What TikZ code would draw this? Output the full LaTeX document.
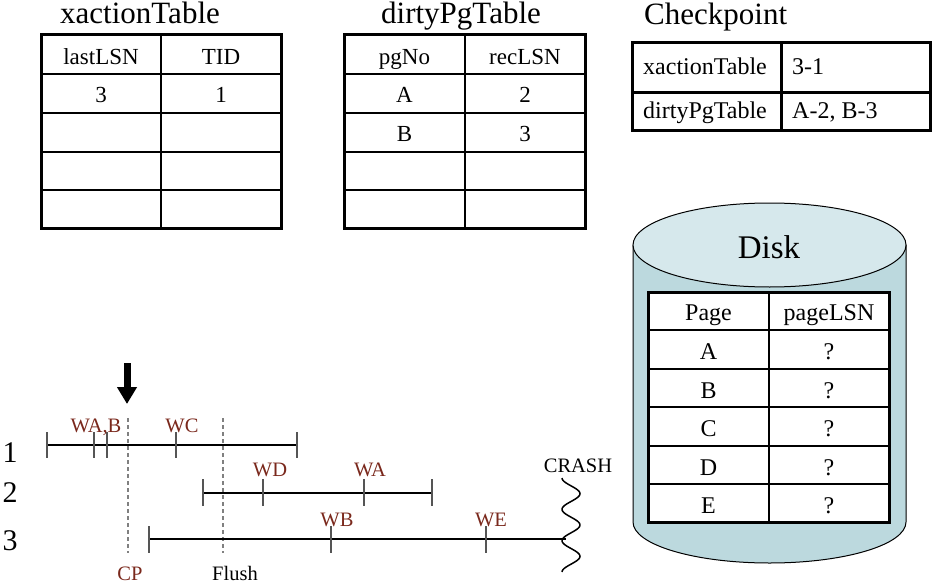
\documentclass[tikz,border=0pt]{standalone}
\usepackage{fontspec}
\setmainfont{Liberation Serif}
\usetikzlibrary{arrows.meta,positioning,calc}
\definecolor{wred}{RGB}{122,40,28}
\definecolor{tickgray}{RGB}{85,85,85}
\definecolor{disktop}{RGB}{214,232,236}
\definecolor{diskside}{RGB}{188,217,222}

\begin{document}
\begin{tikzpicture}[x=1pt,y=-1pt,
    outer/.style={line width=3pt},
    inner/.style={line width=1.2pt},
    title/.style={font=\fontsize{31}{31}\selectfont, anchor=base, inner sep=0pt},
    cell/.style={font=\fontsize{23}{23}\selectfont, anchor=base, inner sep=0pt},
    dcell/.style={font=\fontsize{24}{24}\selectfont, anchor=base, inner sep=0pt},
    wlabel/.style={text=wred, font=\fontsize{20.5}{20.5}\selectfont, anchor=base, inner sep=0pt},
    tick/.style={draw=tickgray, line width=1.6pt},
    logline/.style={line width=1.2pt},
    cutline/.style={draw=gray, dash pattern=on 4pt off 3pt, line width=1.2pt}]
    \useasboundingbox (0,0) rectangle (942,583);

    % xactionTable
    \node[title] (xtTitle) at (140,24) {xactionTable};
    \foreach \y in {74,113,152,190} \draw[inner] (41,\y) -- (281,\y);
    \draw[inner] (161,35) -- (161,228);
    \draw[outer] (41,35) rectangle (281,228);
    \node[cell] (xtH1) at (101,65) {lastLSN};
    \node[cell] (xtH2) at (221,65) {TID};
    \node[cell] (xtR1a) at (101,103) {3};
    \node[cell] (xtR1b) at (221,103) {1};

    % dirtyPgTable
    \node[title] (dpTitle) at (461,24) {dirtyPgTable};
    \foreach \y in {74,113,152,190} \draw[inner] (344,\y) -- (585,\y);
    \draw[inner] (465,35) -- (465,228);
    \draw[outer] (344,35) rectangle (585,228);
    \node[cell] (dpH1) at (404.5,65) {pgNo};
    \node[cell] (dpH2) at (525,65) {recLSN};
    \node[cell] (dpR1a) at (404.5,103) {A};
    \node[cell] (dpR1b) at (525,103) {2};
    \node[cell] (dpR2a) at (404.5,142) {B};
    \node[cell] (dpR2b) at (525,142) {3};

    % Checkpoint
    \node[title, anchor=base west] (cpTitle) at (644,25) {Checkpoint};
    \draw[outer] (632,93) -- (930,93);
    \draw[outer] (781,43) -- (781,131);
    \draw[outer] (632,43) rectangle (930,131);
    \node[dcell, anchor=base west] (cpK1) at (643,75) {xactionTable};
    \node[dcell, anchor=base west] (cpV1) at (792,75) {3-1};
    \node[dcell, anchor=base west] (cpK2) at (643,119) {dirtyPgTable};
    \node[dcell, anchor=base west] (cpV2) at (792,119) {A-2, B-3};

    % Disk
    \filldraw[fill=diskside, line width=1pt] (633,245) -- (633,522)
        arc[start angle=180, end angle=360, x radius=136.5pt, y radius=41pt]
        -- (906,245) -- cycle;
    \filldraw[fill=disktop, line width=1pt] (769.5,245) ellipse (136.5 and 42);
    \node[font=\fontsize{33}{33}\selectfont, anchor=base, inner sep=0pt] (diskTitle) at (769,258) {Disk};
    \fill[white] (648,292) rectangle (889,522);
    \foreach \y in {330,369,407,446,484} \draw[inner] (648,\y) -- (889,\y);
    \draw[inner] (769,292) -- (769,522);
    \draw[outer] (648,292) rectangle (889,522);
    \node[dcell] (dkH1) at (708.5,320) {Page};
    \node[dcell] (dkH2) at (829,320) {pageLSN};
    \foreach \p/\y [count=\i] in {A/359,B/398,C/436,D/475,E/513} {
        \node[dcell] (dkP\i) at (708.5,\y) {\p};
        \node[dcell] (dkL\i) at (829,\y) {?};
    }

    % log timeline
    \node[font=\fontsize{30}{30}\selectfont, anchor=base, inner sep=0pt] (tx1) at (10,462) {1};
    \node[font=\fontsize{30}{30}\selectfont, anchor=base, inner sep=0pt] (tx2) at (10,502) {2};
    \node[font=\fontsize{30}{30}\selectfont, anchor=base, inner sep=0pt] (tx3) at (10,550) {3};

    \draw[cutline] (128,418) -- (128,553);
    \draw[cutline] (223,418) -- (223,553);
    \node[wlabel] (cpLabel) at (130,580) {CP};
    \node[wlabel, text=black] (flushLabel) at (235,580) {Flush};

    \coordinate (arrowTop) at (127,363);
    \coordinate (arrowTip) at (127,404);
    \draw[line width=7pt, -{Triangle[width=19pt,length=17pt]}] (arrowTop) -- (arrowTip);

    % T1
    \draw[logline] (47,445) -- (297,445);
    \foreach \x in {47,94,107,176,297} \draw[tick] (\x,432) -- (\x,458);
    \node[wlabel] (wab) at (96,432) {WA,B};
    \node[wlabel] (wc) at (182,432) {WC};

    % T2
    \draw[logline] (203,493) -- (432,493);
    \foreach \x in {203,263,364,432} \draw[tick] (\x,479) -- (\x,506);
    \node[wlabel] (wd) at (270,476) {WD};
    \node[wlabel] (wa) at (370,476) {WA};

    % T3
    \draw[logline] (149,539) -- (566,539);
    \foreach \x in {149,331,486} \draw[tick] (\x,526) -- (\x,553);
    \node[wlabel] (wb) at (337,526) {WB};
    \node[wlabel] (we) at (491,526) {WE};

    % crash
    \draw[line width=1.5pt, smooth, samples=80, domain=0:94]
        plot ({571-9*cos(11.49*\x)}, {478+\x});
    \node[font=\fontsize{20.5}{20.5}\selectfont, anchor=base, inner sep=0pt] (crash) at (578,472) {CRASH};
\end{tikzpicture}
\end{document}
